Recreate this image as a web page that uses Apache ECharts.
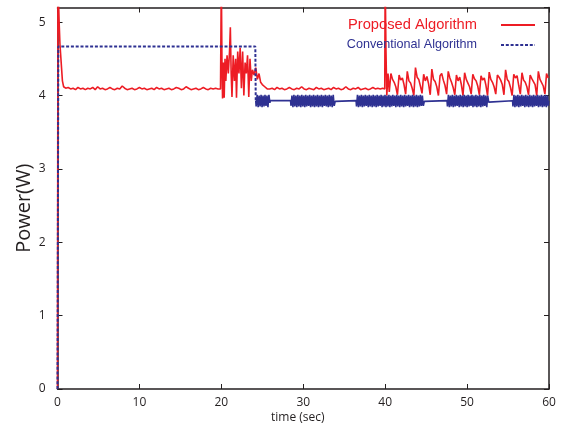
<!DOCTYPE html>
<html><head><meta charset="utf-8">
<script src="https://cdn.jsdelivr.net/npm/echarts@6/dist/echarts.min.js"></script>
<style>html,body{margin:0;padding:0;background:#fff}#c{width:561px;height:429px}</style>
</head><body><div id="c"></div>
<script>
// ---- Data ----
const seriesNames = ['Proposed Algorithm', 'Conventional Algorithm'];
const xTicks = [0, 10, 20, 30, 40, 50, 60];
const yTicks = [0, 1, 2, 3, 4, 5];

// Proposed algorithm (red)
const propStart = [[0,0],[0.05,5.6],[0.2,5.0],[0.3,4.7],[0.45,4.68],[0.6,4.2],[0.75,4.12]];
const propFlat1Start = 1.0, propFlat1Step = 0.3;
const propFlat1 = [4.10,4.11,4.09,4.10,4.08,4.11,4.09,4.10,4.08,4.10,4.09,4.11,4.08,4.12,4.09,4.10,4.08,4.09,4.11,4.09,4.08,4.10,4.09,4.13,4.10,4.08,4.09,4.10,4.08,4.09,4.11,4.09,4.10,4.08,4.09,4.10,4.08,4.11,4.09,4.10,4.08,4.09,4.10,4.08,4.09,4.11,4.10,4.08,4.09,4.12,4.10,4.08,4.09,4.10,4.08,4.09,4.11,4.09,4.08,4.10,4.09,4.10,4.09];
const propDisturb = [[19.9,4.09],[20.0,5.6],[20.08,4.4],[20.15,3.96],[20.25,4.45],[20.35,3.97],[20.45,4.5],[20.55,4.2],[20.7,4.55],[20.85,4.3],[21.0,4.6],[21.1,4.93],[21.2,4.3],[21.3,3.98],[21.45,4.55],[21.6,4.2],[21.75,4.5],[21.85,3.97],[22.0,4.6],[22.15,4.3],[22.3,4.65],[22.45,4.1],[22.6,4.6],[22.75,4.0],[22.9,4.45],[23.05,4.3],[23.2,4.55],[23.35,3.98],[23.5,4.5],[23.65,4.2],[23.8,4.35],[24.0,4.28],[24.2,4.38],[24.4,4.22],[24.6,4.3],[24.8,4.18],[25.0,4.15],[25.3,4.12],[25.6,4.09]];
const propFlat2Start = 25.9, propFlat2Step = 0.3;
const propFlat2 = [4.09,4.10,4.08,4.11,4.09,4.10,4.08,4.09,4.11,4.09,4.08,4.10,4.09,4.12,4.09,4.08,4.10,4.09,4.08,4.11,4.09,4.10,4.08,4.09,4.10,4.08,4.11,4.09,4.10,4.08,4.09,4.12,4.09,4.08,4.10,4.09,4.11,4.08,4.09,4.10,4.08,4.09,4.11,4.09,4.10,4.09,4.10];
const propSpike = [[39.95,4.09],[40.0,5.6],[40.1,4.6],[40.2,4.0],[40.35,4.3]];
const propSawStart = 40.5, propSawStep = 0.2;
const propSaw = [4.05,4.30,4.22,4.18,4.12,4.01,4.28,4.21,4.24,4.15,4.02,4.33,4.20,4.17,4.10,4.00,4.38,4.25,4.22,4.13,4.03,4.29,4.20,4.26,4.16,4.01,4.36,4.22,4.19,4.12,4.00,4.27,4.30,4.21,4.14,4.02,4.33,4.24,4.18,4.11,4.01,4.28,4.20,4.25,4.15,4.00,4.31,4.22,4.17,4.12,4.02,4.29,4.23,4.20,4.13,4.01,4.27,4.21,4.24,4.14,4.00,4.32,4.22,4.18,4.12,4.02,4.28,4.25,4.21,4.15,4.01,4.35,4.22,4.19,4.11,4.00,4.29,4.24,4.27,4.14,4.02,4.31,4.21,4.18,4.12,4.01,4.28,4.23,4.25,4.15,4.00,4.33,4.22,4.20,4.13,4.02,4.30,4.24];

// Conventional algorithm (blue)
const convStart = [[0,0],[0.1,4.67],[24.15,4.67],[24.2,3.93]];
const convLow = 3.93;
const convBurstStep = 0.12;
const convBurstStarts = [24.25, 28.5, 36.5, 47.6, 55.6];
const convBurst1 = [3.85,4.01,3.84,4.00,3.85,4.01,3.84,4.00,3.85,4.01,3.86,4.00,3.84,4.01,3.90];
const convBurst2 = [3.86,4.00,3.84,4.01,3.85,4.00,3.84,4.01,3.85,4.00,3.84,4.01,3.85,4.00,3.84,4.01,3.85,4.00,3.86,4.01,3.84,4.00,3.85,4.01,3.84,4.00,3.85,4.01,3.84,4.00,3.85,4.01,3.84,4.00,3.86,4.01,3.85,4.00,3.84,4.01,3.85,4.00,3.84,4.01,3.86,3.92];
const convBurst3 = [3.85,4.01,3.84,4.00,3.85,4.01,3.84,4.00,3.85,4.01,3.86,4.00,3.84,4.01,3.85,4.00,3.84,4.01,3.85,4.00,3.84,4.01,3.85,4.00,3.86,4.01,3.84,4.00,3.85,4.01,3.84,4.00,3.85,4.01,3.84,4.00,3.85,4.01,3.86,4.00,3.84,4.01,3.85,4.00,3.84,4.01,3.85,4.00,3.84,4.01,3.85,4.00,3.86,4.01,3.84,4.00,3.85,4.01,3.84,4.00,3.85,4.01,3.84,4.00,3.85,4.01,3.86,4.00,3.86,3.92];
const convBurst4 = [3.85,4.01,3.84,4.00,3.85,4.01,3.84,4.00,3.85,4.01,3.86,4.00,3.84,4.01,3.85,4.00,3.84,4.01,3.85,4.00,3.84,4.01,3.85,4.00,3.86,4.01,3.84,4.00,3.85,4.01,3.84,4.00,3.85,4.01,3.84,4.00,3.85,4.01,3.86,4.00,3.84,4.00,3.91];
const convBurst5 = [3.85,4.01,3.84,4.00,3.85,4.01,3.84,4.00,3.85,4.01,3.86,4.00,3.84,4.01,3.85,4.00,3.84,4.01,3.85,4.00,3.84,4.01,3.85,4.00,3.86,4.01,3.84,4.00,3.85,4.01,3.84,4.00,3.85,4.01,3.84,4.00,3.86];

// ---- Build series data ----
function sampled(t0, dt, vals) { return vals.map((v, i) => [+(t0 + i * dt).toFixed(3), v]); }
const propData = [].concat(
  propStart,
  sampled(propFlat1Start, propFlat1Step, propFlat1),
  propDisturb,
  sampled(propFlat2Start, propFlat2Step, propFlat2),
  propSpike,
  sampled(propSawStart, propSawStep, propSaw)
);
// before the switch (dashed look) and after it (dense oscillation)
const convDataA = convStart.slice();
const bursts = [convBurst1, convBurst2, convBurst3, convBurst4, convBurst5];
let convDataB = [convStart[convStart.length - 1]];
bursts.forEach((b, k) => {
  const s = sampled(convBurstStarts[k], convBurstStep, b);
  convDataB.push([convBurstStarts[k] - 0.05, convLow]);
  convDataB = convDataB.concat(s);
  convDataB.push([s[s.length - 1][0] + 0.05, convLow]);
});

const RED = '#ed1c24', BLUE = '#2e3192', AX = '#231f20';
const FONT = 'Open Sans';

const chart = echarts.init(document.getElementById('c'), null, {renderer: 'canvas'});
const axisCommon = {
  type: 'value',
  nameMoveOverlap: false,
  axisLine: {show: true, onZero: false, lineStyle: {color: AX, width: 1.5}},
  axisTick: {show: true, inside: true, length: 5, lineStyle: {color: AX, width: 1}},
  splitLine: {show: false}
};
chart.setOption({
  animation: false,
  backgroundColor: '#fff',
  grid: {left: 57.5, right: 12, top: 7.5, bottom: 39, containLabel: false},
  legend: {
    orient: 'vertical', right: 25, top: 17, align: 'right', padding: 0,
    itemWidth: 34, itemHeight: 10, itemGap: 4,
    itemStyle: {opacity: 0, color: 'rgba(0,0,0,0)', borderWidth: 0},
    textStyle: {fontSize: 15, lineHeight: 16, padding: [0, 19, 0, 0], fontFamily: 'Liberation Sans'},
    data: [
      {name: seriesNames[0], textStyle: {color: RED, fontSize: 14.7}},
      {name: seriesNames[1], textStyle: {color: BLUE, fontSize: 12.6}}
    ]
  },
  xAxis: [
    Object.assign({}, axisCommon, {
      position: 'bottom', min: xTicks[0], max: xTicks[xTicks.length - 1], interval: 10,
      axisLabel: {color: AX, fontSize: 12, margin: 8, fontFamily: FONT},
      name: 'time (sec)', nameLocation: 'middle', nameGap: 23,
      nameTextStyle: {color: AX, fontSize: 12, fontFamily: FONT, padding: [0, 11, 0, 0]}
    }),
    Object.assign({}, axisCommon, {
      position: 'top', min: xTicks[0], max: xTicks[xTicks.length - 1], interval: 10,
      axisLabel: {show: false}
    })
  ],
  yAxis: [
    Object.assign({}, axisCommon, {
      position: 'left', min: yTicks[0], max: 5.2, interval: 1,
      axisLabel: {color: AX, fontSize: 12, margin: 12, fontFamily: FONT, showMaxLabel: false},
      name: 'Power(W)', nameLocation: 'middle', nameGap: 23,
      nameTextStyle: {color: AX, fontSize: 20, fontFamily: FONT, padding: [0, 20, 0, 0]}
    }),
    Object.assign({}, axisCommon, {
      position: 'right', min: yTicks[0], max: 5.2, interval: 1,
      axisLabel: {show: false}
    })
  ],
  series: [
    {
      name: seriesNames[0], type: 'line', data: propData,
      showSymbol: false, symbol: 'none', clip: true,
      lineStyle: {color: RED, width: 1.6}, itemStyle: {color: RED}
    },
    {
      name: seriesNames[1], type: 'line', data: convDataA,
      showSymbol: false, symbol: 'none', clip: true,
      lineStyle: {color: BLUE, width: 2, type: [3, 1.8]}, itemStyle: {color: BLUE}
    },
    {
      name: seriesNames[1], type: 'line', data: convDataB,
      showSymbol: false, symbol: 'none', clip: true,
      lineStyle: {color: BLUE, width: 1.6}, itemStyle: {color: BLUE}
    }
  ]
});
</script></body></html>
